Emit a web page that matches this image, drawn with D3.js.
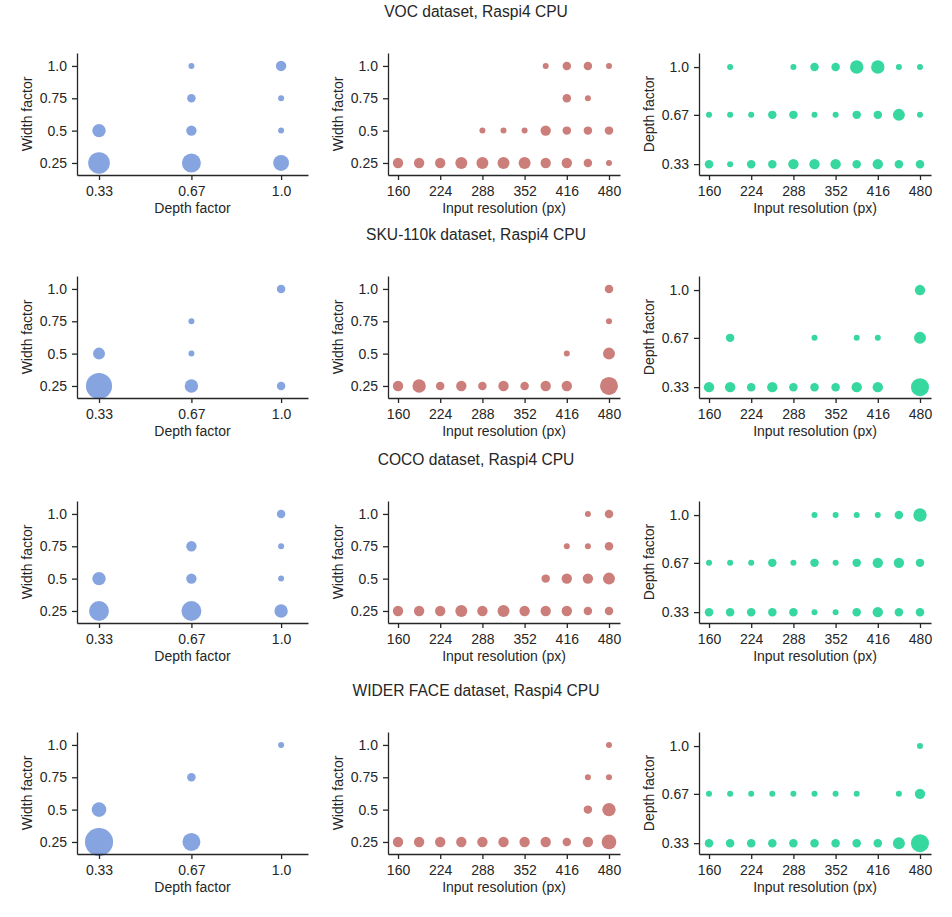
<!DOCTYPE html>
<head>
<meta charset="utf-8">
<script src="https://cdn.jsdelivr.net/npm/d3@7/dist/d3.min.js"></script>
<style>
body { margin: 0; background: #fff; }
svg { font-family: Arial, "Liberation Sans", sans-serif; }
</style>
</head>
<body>
<script>
// categories
var depthFactors = [0.33, 0.67, 1.0];
var widthFactors = [0.25, 0.5, 0.75, 1.0];
var resolutions = [160, 192, 224, 256, 288, 320, 352, 384, 416, 448, 480];
var datasets = ["VOC", "SKU-110k", "COCO", "WIDER FACE"];

// number of models per cell (bubble size)
// depth x width: one row per depth factor, one value per width factor
var vocDepthWidth = [[13, 5, 0, 0], [10, 3, 2, 1], [7, 1, 1, 3]];
var skuDepthWidth = [[19, 4, 0, 0], [5, 1, 1, 0], [2, 0, 0, 2]];
var cocoDepthWidth = [[11, 5, 0, 0], [11, 3, 3, 0], [5, 1, 1, 2]];
var widerDepthWidth = [[22, 6, 0, 0], [9, 0, 2, 0], [0, 0, 0, 1]];

// resolution x width: one row per width factor
var vocResWidth = [
  [3, 3, 3, 4, 4, 4, 4, 3, 3, 2, 1],
  [0, 0, 0, 0, 1, 1, 1, 3, 2, 2, 2],
  [0, 0, 0, 0, 0, 0, 0, 0, 2, 1, 0],
  [0, 0, 0, 0, 0, 0, 0, 1, 2, 2, 1]];
var skuResWidth = [
  [3, 5, 2, 3, 2, 3, 2, 3, 3, 0, 9],
  [0, 0, 0, 0, 0, 0, 0, 0, 1, 0, 4],
  [0, 0, 0, 0, 0, 0, 0, 0, 0, 0, 1],
  [0, 0, 0, 0, 0, 0, 0, 0, 0, 0, 2]];
var cocoResWidth = [
  [3, 3, 3, 4, 3, 4, 3, 3, 3, 2, 2],
  [0, 0, 0, 0, 0, 0, 0, 2, 3, 3, 4],
  [0, 0, 0, 0, 0, 0, 0, 0, 1, 1, 2],
  [0, 0, 0, 0, 0, 0, 0, 0, 0, 1, 2]];
var widerResWidth = [
  [3, 3, 3, 3, 3, 3, 3, 3, 2, 3, 6],
  [0, 0, 0, 0, 0, 0, 0, 0, 0, 2, 5],
  [0, 0, 0, 0, 0, 0, 0, 0, 0, 1, 1],
  [0, 0, 0, 0, 0, 0, 0, 0, 0, 0, 1]];

// resolution x depth: one row per depth factor
var vocResDepth = [
  [2, 1, 2, 2, 3, 3, 3, 2, 3, 2, 2],
  [1, 1, 1, 2, 2, 1, 1, 2, 2, 4, 1],
  [0, 1, 0, 0, 1, 2, 2, 5, 5, 1, 1]];
var skuResDepth = [
  [3, 3, 2, 3, 2, 2, 2, 3, 3, 0, 9],
  [0, 2, 0, 0, 0, 1, 0, 1, 1, 0, 4],
  [0, 0, 0, 0, 0, 0, 0, 0, 0, 0, 3]];
var cocoResDepth = [
  [2, 2, 2, 2, 2, 1, 1, 2, 3, 2, 2],
  [1, 1, 1, 2, 1, 2, 1, 2, 3, 3, 2],
  [0, 0, 0, 0, 0, 1, 1, 1, 1, 2, 5]];
var widerResDepth = [
  [2, 2, 2, 2, 2, 2, 2, 2, 2, 4, 9],
  [1, 1, 1, 1, 1, 1, 1, 1, 0, 1, 3],
  [0, 0, 0, 0, 0, 0, 0, 0, 0, 0, 1]];

var depthWidth = [vocDepthWidth, skuDepthWidth, cocoDepthWidth, widerDepthWidth];
var resWidth = [vocResWidth, skuResWidth, cocoResWidth, widerResWidth];
var resDepth = [vocResDepth, skuResDepth, cocoResDepth, widerResDepth];

var resTicks = [160, 224, 288, 352, 416, 480];

// set up the drawing area
var width = 952, height = 917;
var svg = d3.select("body").append("svg")
  .attr("width", width)
  .attr("height", height);

var ink = "#262626";
var colors = ["#86a5e0", "#cc7e7b", "#37d7a0"];
var rowTop = [53, 276, 501, 732], plotH = 122;
var cols = [[77, 308], [388, 620], [699, 931]];

var rScale = d3.scaleSqrt().domain([0, 1]).range([0, 3]);

function transpose(m) {
  return m[0].map(function(_, i) { return m.map(function(r) { return r[i]; }); });
}

// turn a grid (rows = y categories, columns = x categories) into points
function cells(grid, xs, ys) {
  var pts = [];
  grid.forEach(function(row, j) {
    row.forEach(function(n, i) {
      if (n > 0) pts.push({x: xs[i], y: ys[j], n: n});
    });
  });
  return pts;
}

function panel(row, col, pts, xDomain, yDomain, xTicks, yTicks, xFmt, yFmt, xLabel, yLabel) {
  var top = rowTop[row], left = cols[col][0], right = cols[col][1];
  var x = d3.scaleLinear().domain(xDomain).range([left, right]);
  var y = d3.scaleLinear().domain(yDomain).range([top + plotH, top]);
  var g = svg.append("g");

  g.selectAll("circle")
    .data(pts).enter().append("circle")
    .attr("cx", function(d) { return x(d.x); })
    .attr("cy", function(d) { return y(d.y); })
    .attr("r", function(d) { return rScale(d.n); })
    .attr("fill", colors[col]);

  var xa = g.append("g")
    .attr("transform", "translate(0," + (top + plotH) + ")")
    .call(d3.axisBottom(x).tickValues(xTicks).tickFormat(xFmt).tickSize(5).tickPadding(6).tickSizeOuter(0));
  var ya = g.append("g")
    .attr("transform", "translate(" + left + ",0)")
    .call(d3.axisLeft(y).tickValues(yTicks).tickFormat(yFmt).tickSize(5).tickPadding(5).tickSizeOuter(0));
  [xa, ya].forEach(function(a) {
    a.selectAll("path, line").attr("stroke", ink).attr("stroke-width", 1.3);
    a.selectAll("text").attr("fill", ink).style("font-size", "14px");
  });

  g.append("text")
    .attr("x", (left + right) / 2)
    .attr("y", top + plotH + 38)
    .attr("text-anchor", "middle")
    .attr("fill", ink)
    .style("font-size", "14px")
    .text(xLabel);
  g.append("text")
    .attr("transform", "translate(" + (left - 45) + "," + (top + plotH / 2) + ") rotate(-90)")
    .attr("text-anchor", "middle")
    .attr("fill", ink)
    .style("font-size", "14px")
    .text(yLabel);
}

var fmtFactor = function(d) { return d === 1 ? "1.0" : String(d); };

datasets.forEach(function(name, k) {
  svg.append("text")
    .attr("x", width / 2)
    .attr("y", rowTop[k] - 36)
    .attr("text-anchor", "middle")
    .attr("fill", ink)
    .style("font-size", "15.6px")
    .text(name + " dataset, Raspi4 CPU");

  panel(k, 0, cells(transpose(depthWidth[k]), depthFactors, widthFactors),
    [0.249, 1.099], [0.157, 1.1], depthFactors, widthFactors, fmtFactor, fmtFactor,
    "Depth factor", "Width factor");
  panel(k, 1, cells(resWidth[k], resolutions, widthFactors),
    [144.8, 496.7], [0.157, 1.1], resTicks, widthFactors, d3.format("d"), fmtFactor,
    "Input resolution (px)", "Width factor");
  panel(k, 2, cells(resDepth[k], resolutions, depthFactors),
    [144.8, 496.7], [0.255, 1.097], resTicks, depthFactors, d3.format("d"), fmtFactor,
    "Input resolution (px)", "Depth factor");
});
</script>
</body>
